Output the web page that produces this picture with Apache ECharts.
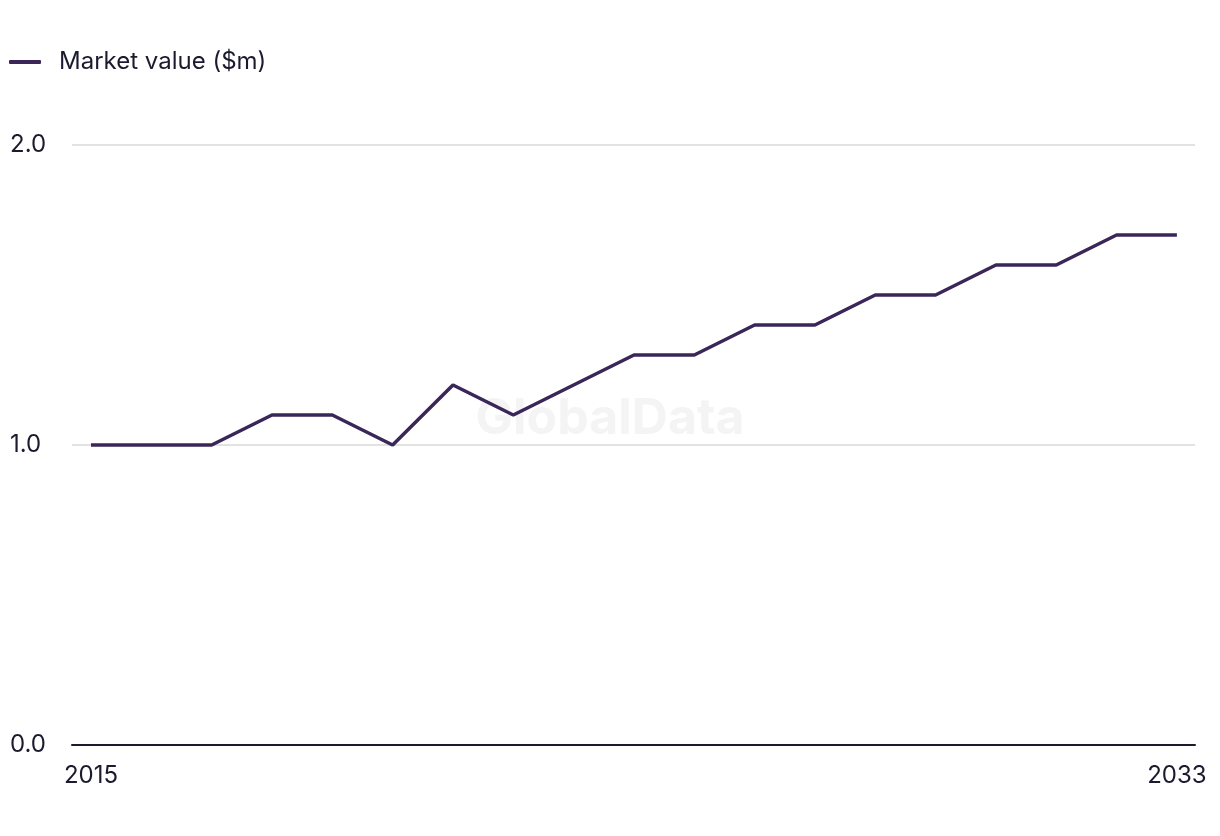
<!DOCTYPE html>
<html>
<head>
<meta charset="utf-8">
<script src="https://cdn.jsdelivr.net/npm/echarts@6/dist/echarts.min.js"></script>
<style>
html,body{margin:0;padding:0;background:#fff;}
#main{width:1220px;height:836px;}
</style>
</head>
<body>
<div id="main"></div>
<script>
const years = [2015,2016,2017,2018,2019,2020,2021,2022,2023,2024,2025,2026,2027,2028,2029,2030,2031,2032,2033];
const marketValue = [1.0,1.0,1.0,1.1,1.1,1.0,1.2,1.1,1.2,1.3,1.3,1.4,1.4,1.5,1.5,1.6,1.6,1.7,1.7];
const xTickLabels = [2015, 2033];
const yTicks = [0, 1, 2];
const seriesName = 'Market value ($m)';

const FONT = 'Inter, "Noto Sans", sans-serif';
const TEXT = '#1b1a2e';
const LINE = '#3a2658';

const chart = echarts.init(document.getElementById('main'), null, {renderer:'canvas'});
chart.setOption({
  animation:false,
  backgroundColor:'#fff',
  graphic:[{
    type:'text', left:'center', top:394, z:0,
    style:{text:'GlobalData', font:'bold 50px ' + FONT, fill:'#f4f4f4'}
  }],
  legend:{
    left:4, top:45, itemWidth:32, itemHeight:4, itemGap:10,
    textStyle:{fontFamily:FONT, fontSize:24, color:TEXT, padding:[0,0,0,13]},
    data:[{name:seriesName, icon:'roundRect'}]
  },
  grid:{left:72, right:25, top:145, bottom:91, containLabel:false},
  xAxis:{
    type:'value', min:2014.685, max:2033.3,
    axisLine:{show:true, onZero:false, lineStyle:{color:TEXT, width:2}},
    axisTick:{show:false},
    splitLine:{show:false},
    axisLabel:{
      customValues:xTickLabels, showMinLabel:true, showMaxLabel:true,
      fontFamily:FONT, fontSize:24, color:TEXT, margin:19,
      formatter:(v)=>String(v)
    }
  },
  yAxis:{
    type:'value', min:yTicks[0], max:yTicks[yTicks.length-1], interval:1,
    axisLine:{show:false}, axisTick:{show:false},
    splitLine:{show:true, lineStyle:{color:'#d9d9d9', width:1.5}},
    axisLabel:{
      fontFamily:FONT, fontSize:24, color:TEXT, align:'left', margin:62,
      formatter:(v)=>v.toFixed(1)
    }
  },
  series:[{
    name:seriesName, type:'line', z:5,
    data:years.map((y,i)=>[y, marketValue[i]]),
    symbol:'none', lineStyle:{color:LINE, width:3.5}, itemStyle:{color:LINE}
  }]
});
</script>
</body>
</html>
